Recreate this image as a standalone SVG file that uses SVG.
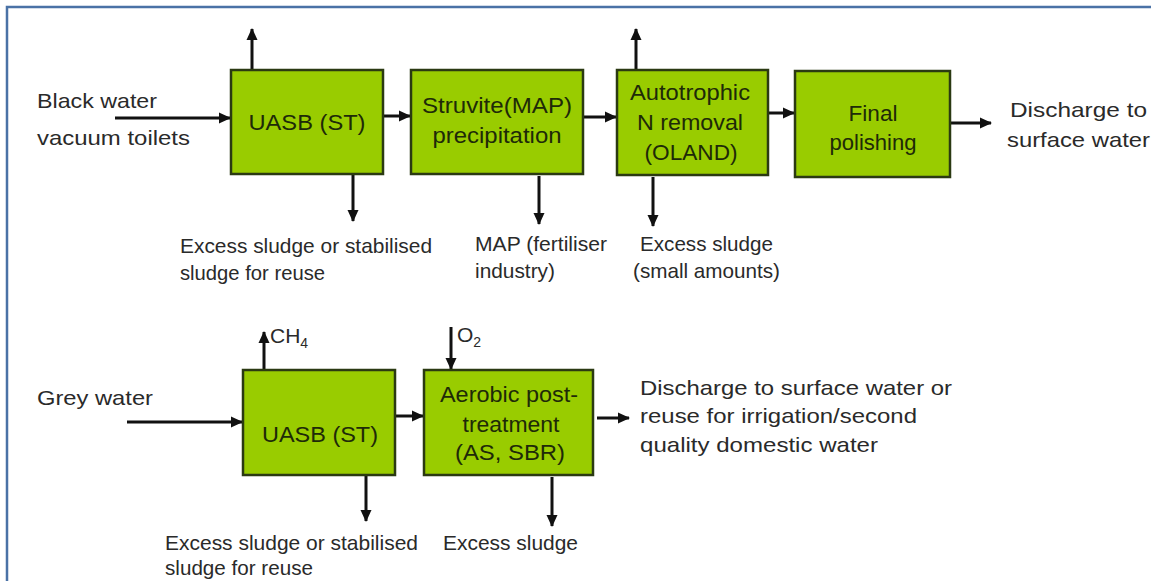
<svg xmlns="http://www.w3.org/2000/svg" width="1151" height="581" viewBox="0 0 1151 581">
<style>
.bg{fill:#ffffff}
.frame{fill:none;stroke:#4a72a6;stroke-width:2.5}
.box{fill:#99cc00;stroke:#2b3a12;stroke-width:2.5}
.bt{font-family:"Liberation Sans",Arial,sans-serif;font-size:22px;fill:#1e2a08;text-anchor:middle}
.lt{font-family:"Liberation Sans",Arial,sans-serif;font-size:21px;fill:#2a2a2a}
.sub{font-size:14px}
.arr{fill:none;stroke:#111;stroke-width:3;marker-end:url(#ah)}
</style>
<defs>
<marker id="ah" markerUnits="userSpaceOnUse" markerWidth="14" markerHeight="14" viewBox="0 0 14 14" refX="12" refY="7" orient="auto">
<path d="M1,1.5 L13,7 L1,12.5 Z" fill="#111"/>
</marker>
</defs>
<rect class="bg" x="0" y="0" width="1151" height="581"/>
<rect class="frame" x="7" y="7" width="1170" height="600"/>

<g id="connectors">
<line class="arr" x1="115" y1="118" x2="230" y2="118"/>
<line class="arr" x1="252" y1="70" x2="252" y2="29"/>
<line class="arr" x1="353" y1="174" x2="353" y2="221"/>
<line class="arr" x1="383" y1="116" x2="410" y2="116"/>
<line class="arr" x1="539" y1="176" x2="539" y2="224"/>
<line class="arr" x1="583" y1="117" x2="616" y2="117"/>
<line class="arr" x1="636" y1="70" x2="636" y2="29"/>
<line class="arr" x1="653" y1="177" x2="653" y2="226"/>
<line class="arr" x1="768" y1="113" x2="794" y2="113"/>
<line class="arr" x1="950" y1="123" x2="991" y2="123"/>

<line class="arr" x1="127" y1="422" x2="242" y2="422"/>
<line class="arr" x1="264" y1="370" x2="264" y2="332"/>
<line class="arr" x1="366" y1="475" x2="366" y2="521"/>
<line class="arr" x1="395" y1="416" x2="423" y2="416"/>
<line class="arr" x1="451" y1="327" x2="451" y2="369"/>
<line class="arr" x1="597" y1="418" x2="629" y2="418"/>
<line class="arr" x1="552" y1="477" x2="552" y2="526"/>
</g>

<g id="node-uasb1">
<rect class="box" x="231" y="70" width="152" height="104"/>
<text class="bt" x="307" y="130" textLength="117" lengthAdjust="spacingAndGlyphs">UASB (ST)</text>
</g>
<g id="node-struvite">
<rect class="box" x="411" y="70" width="172" height="104"/>
<text class="bt" x="497" y="113" textLength="150" lengthAdjust="spacingAndGlyphs">Struvite(MAP)</text>
<text class="bt" x="497" y="143" textLength="129" lengthAdjust="spacingAndGlyphs">precipitation</text>
</g>
<g id="node-autotrophic">
<rect class="box" x="617" y="70" width="151" height="105"/>
<text class="bt" x="690" y="100" textLength="120" lengthAdjust="spacingAndGlyphs">Autotrophic</text>
<text class="bt" x="690" y="130" textLength="106" lengthAdjust="spacingAndGlyphs">N removal</text>
<text class="bt" x="691" y="160" textLength="93" lengthAdjust="spacingAndGlyphs">(OLAND)</text>
</g>
<g id="node-final">
<rect class="box" x="795" y="71" width="155" height="106"/>
<text class="bt" x="873" y="121" textLength="49" lengthAdjust="spacingAndGlyphs">Final</text>
<text class="bt" x="873" y="150" textLength="87" lengthAdjust="spacingAndGlyphs">polishing</text>
</g>
<g id="node-uasb2">
<rect class="box" x="243" y="370" width="152" height="105"/>
<text class="bt" x="320" y="442" textLength="116" lengthAdjust="spacingAndGlyphs">UASB (ST)</text>
</g>
<g id="node-aerobic">
<rect class="box" x="424" y="370" width="169" height="105"/>
<text class="bt" x="509" y="402" textLength="138" lengthAdjust="spacingAndGlyphs">Aerobic post-</text>
<text class="bt" x="511" y="432" textLength="97" lengthAdjust="spacingAndGlyphs">treatment</text>
<text class="bt" x="510" y="460" textLength="110" lengthAdjust="spacingAndGlyphs">(AS, SBR)</text>
</g>

<g id="labels">
<text class="lt" x="37" y="108" textLength="120" lengthAdjust="spacingAndGlyphs">Black water</text>
<text class="lt" x="37" y="145" textLength="153" lengthAdjust="spacingAndGlyphs">vacuum toilets</text>
<text class="lt" x="1010" y="117" textLength="137" lengthAdjust="spacingAndGlyphs">Discharge to</text>
<text class="lt" x="1007" y="147" textLength="143" lengthAdjust="spacingAndGlyphs">surface water</text>
<text class="lt" x="180" y="253" textLength="252" lengthAdjust="spacingAndGlyphs">Excess sludge or stabilised</text>
<text class="lt" x="180" y="280" textLength="145" lengthAdjust="spacingAndGlyphs">sludge for reuse</text>
<text class="lt" x="475" y="251" textLength="132" lengthAdjust="spacingAndGlyphs">MAP (fertiliser</text>
<text class="lt" x="475" y="278" textLength="80" lengthAdjust="spacingAndGlyphs">industry)</text>
<text class="lt" x="640" y="251" textLength="133" lengthAdjust="spacingAndGlyphs">Excess sludge</text>
<text class="lt" x="633" y="278" textLength="147" lengthAdjust="spacingAndGlyphs">(small amounts)</text>

<text class="lt" x="37" y="405" textLength="116" lengthAdjust="spacingAndGlyphs">Grey water</text>
<text class="lt" x="270" y="343">CH<tspan class="sub" dy="5">4</tspan></text>
<text class="lt" x="457" y="342">O<tspan class="sub" dy="5">2</tspan></text>
<text class="lt" x="640" y="395" textLength="312" lengthAdjust="spacingAndGlyphs">Discharge to surface water or</text>
<text class="lt" x="640" y="423" textLength="277" lengthAdjust="spacingAndGlyphs">reuse for irrigation/second</text>
<text class="lt" x="640" y="452" textLength="238" lengthAdjust="spacingAndGlyphs">quality domestic water</text>
<text class="lt" x="165" y="550" textLength="253" lengthAdjust="spacingAndGlyphs">Excess sludge or stabilised</text>
<text class="lt" x="165" y="575" textLength="148" lengthAdjust="spacingAndGlyphs">sludge for reuse</text>
<text class="lt" x="443" y="550" textLength="135" lengthAdjust="spacingAndGlyphs">Excess sludge</text>
</g>
</svg>
